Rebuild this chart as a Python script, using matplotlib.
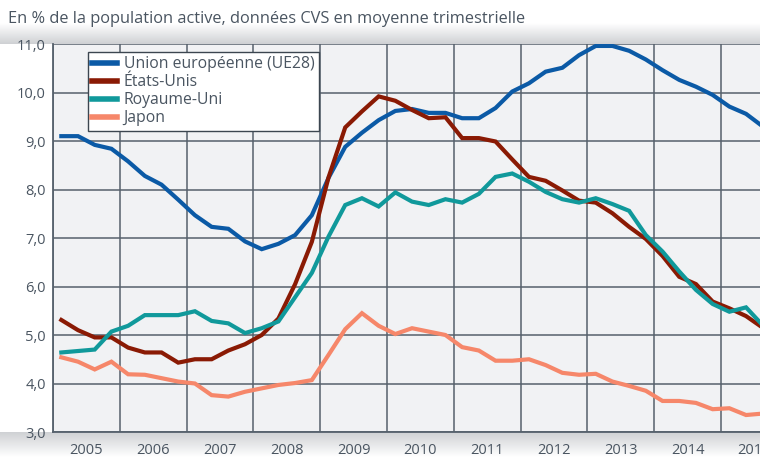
import numpy as np
import matplotlib
matplotlib.use("Agg")
import matplotlib.pyplot as plt

# Taux de chômage trimestriel, 2005T1 -> 2015T3
start_year = 2005
labels = ["Union européenne (UE28)", "États-Unis", "Royaume-Uni", "Japon"]
colors = ["#0b5aa6", "#8a1a04", "#10999b", "#f6876a"]
years = [str(y) for y in range(2005, 2016)]

ue28 = [9.10, 9.10, 8.92, 8.84, 8.58, 8.28, 8.10, 7.79, 7.47, 7.23, 7.19, 6.93,
        6.77, 6.88, 7.06, 7.47, 8.24, 8.88, 9.17, 9.43, 9.62, 9.66, 9.58, 9.58,
        9.47, 9.47, 9.68, 10.02, 10.19, 10.43, 10.51, 10.77, 10.96, 10.96, 10.86,
        10.68, 10.46, 10.26, 10.12, 9.95, 9.71, 9.56, 9.30]
usa = [5.31, 5.10, 4.95, 4.95, 4.74, 4.64, 4.64, 4.43, 4.50, 4.50, 4.68, 4.81,
       5.00, 5.34, 6.05, 6.92, 8.25, 9.28, 9.61, 9.92, 9.83, 9.64, 9.47, 9.49,
       9.06, 9.06, 8.99, 8.62, 8.26, 8.18, 7.98, 7.77, 7.73, 7.51, 7.23, 6.98,
       6.63, 6.20, 6.05, 5.69, 5.55, 5.39, 5.15]
uk = [4.64, 4.67, 4.70, 5.07, 5.19, 5.41, 5.41, 5.41, 5.49, 5.29, 5.24, 5.04,
      5.14, 5.28, 5.78, 6.28, 7.03, 7.68, 7.82, 7.65, 7.94, 7.75, 7.68, 7.80,
      7.73, 7.91, 8.26, 8.33, 8.16, 7.95, 7.80, 7.73, 7.82, 7.70, 7.56, 7.06,
      6.72, 6.31, 5.93, 5.64, 5.48, 5.57, 5.20]
japon = [4.54, 4.45, 4.29, 4.45, 4.19, 4.18, 4.11, 4.04, 4.00, 3.76, 3.73, 3.83,
         3.90, 3.97, 4.01, 4.07, 4.59, 5.12, 5.45, 5.19, 5.02, 5.14, 5.07, 5.00,
         4.75, 4.68, 4.47, 4.47, 4.50, 4.38, 4.22, 4.18, 4.20, 4.04, 3.95, 3.85,
         3.64, 3.64, 3.60, 3.47, 3.49, 3.35, 3.38]

series = [ue28, usa, uk, japon]
x = start_year + (np.arange(len(ue28)) + 0.5) / 4.0

txt = "#4a5561"
grid = "#56616c"
plt.rcParams['font.family'] = ['Open Sans', 'DejaVu Sans']

fig = plt.figure(figsize=(7.6, 4.57), dpi=100)

# ombres grises autour du graphique
grad = np.linspace(0, 1, 50).reshape(-1, 1)
shadow = matplotlib.colors.LinearSegmentedColormap.from_list("sh", ["#ffffff", "#cfd1d4"])
top_sh = fig.add_axes([0.0, 0.9037, 1.0, 0.045])
top_sh.imshow(grad, aspect="auto", cmap=shadow, origin="lower", extent=[0, 1, 0, 1])
top_sh.invert_yaxis()
top_sh.axis("off")
bot_sh = fig.add_axes([0.0, 0.0, 1.0, 0.0547])
bot_sh.imshow(grad, aspect="auto", cmap=shadow, origin="lower", extent=[0, 1, 0, 1])
bot_sh.axis("off")

ax = fig.add_axes([0.0697, 0.0547, 0.9303, 0.849])
ax.set_facecolor("#f1f2f4")

for vals, lab, col in zip(series, labels, colors):
    ax.plot(x, vals, color=col, lw=3, label=lab, solid_joinstyle="miter", zorder=3)

ax.set_ylim(3, 11)
ax.set_xlim(2005, 2005 + 707 / 66.8)
ax.set_yticks(np.arange(3, 12, 1))
ax.set_yticklabels([f"{v:.1f}".replace(".", ",") for v in np.arange(3, 12, 1)])
ax.set_xticks(np.arange(2005, 2016, 1))
ax.set_xticklabels([])
ax.set_xticks(np.arange(2005, 2016, 1) + 0.5, minor=True)
ax.set_xticklabels(years, minor=True)
ax.tick_params(axis="both", which="both", length=0, labelsize=10.5, colors=txt)
ax.tick_params(axis="x", which="minor", pad=8)
ax.tick_params(axis="y", pad=5)
for lbl in ax.get_xticklabels(minor=True):
    lbl.set_clip_on(False)

ax.grid(True, which="major", color=grid, lw=1.1, zorder=1)
for s in ["top", "right"]:
    ax.spines[s].set_visible(False)
for s in ["left", "bottom"]:
    ax.spines[s].set_color(grid)
    ax.spines[s].set_linewidth(1.3)

leg = ax.legend(loc="upper left", bbox_to_anchor=(0.049, 0.98), frameon=True,
                fancybox=False, fontsize=11.3, handlelength=1.6, handletextpad=0.4,
                labelspacing=0.12, borderpad=0.3, borderaxespad=0)
leg.get_frame().set_edgecolor("#3c4650")
leg.get_frame().set_linewidth(1.0)
leg.get_frame().set_facecolor("white")
leg.get_frame().set_alpha(1)
for t in leg.get_texts():
    t.set_color(txt)
for h in leg.get_lines():
    h.set_linewidth(4)

fig.text(0.011, 0.959, "En % de la population active, données CVS en moyenne trimestrielle",
         fontsize=11.75, color=txt, va="center", ha="left")

fig.savefig("out.png", dpi=100)
